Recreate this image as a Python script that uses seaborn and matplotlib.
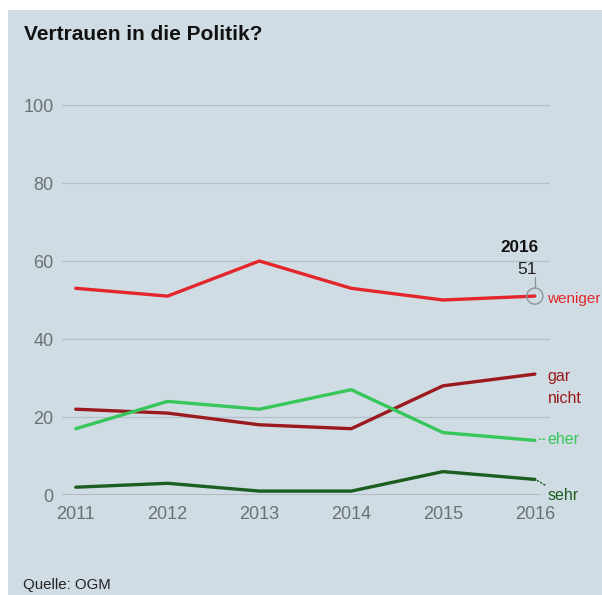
import matplotlib.pyplot as plt
import numpy as np
import pandas as pd
import seaborn as sns
from matplotlib.patches import Rectangle

years = [2011, 2012, 2013, 2014, 2015, 2016]
weniger = [53, 51, 60, 53, 50, 51]
gar_nicht = [22, 21, 18, 17, 28, 31]
eher = [17, 24, 22, 27, 16, 14]
sehr = [2, 3, 1, 1, 6, 4]

series = {'weniger': weniger, 'gar\nnicht': gar_nicht, 'eher': eher, 'sehr': sehr}
colors = {'weniger': '#e3262b', 'gar\nnicht': '#9a1a1d', 'eher': '#36c65a', 'sehr': '#1c5e1f'}
yticks = [0, 20, 40, 60, 80, 100]

bg = '#d0dce3'
sns.set_style('white', {'axes.facecolor': bg})
plt.rcParams['font.family'] = ['Liberation Sans', 'DejaVu Sans']

df = pd.DataFrame([(y, k, v) for k, vals in series.items() for y, v in zip(years, vals)],
                  columns=['year', 'series', 'value'])

fig = plt.figure(figsize=(6.02, 5.95), dpi=100)
fig.patch.set_facecolor('white')
fig.patches.append(Rectangle((8/602, 0), 1, 1 - 10/595, transform=fig.transFigure,
                             facecolor=bg, edgecolor='none', zorder=-10))
ax = fig.add_axes([62/602, 1 - 495/595, 488/602, 390/595])
ax.set_facecolor(bg)

for v in yticks[1:]:
    ax.axhline(v, color='#b4c0c8', lw=0.9, zorder=0)
ax.axhline(0, color='#333333', lw=1.0, xmax=0.98, zorder=1)

sns.lineplot(data=df, x='year', y='value', hue='series', palette=colors, ax=ax,
             lw=2.4, legend=False, clip_on=False, zorder=3)

ax.set_xlim(2010.85, 2016.165)
ax.set_ylim(0, 100)
ax.set_xticks(years)
ax.set_yticks(yticks)
ax.tick_params(axis='both', length=0, labelsize=13, labelcolor='#6a7177')
ax.tick_params(axis='y', pad=6)
ax.tick_params(axis='x', pad=8)
ax.set_xlabel('')
ax.set_ylabel('')
for s in ax.spines.values():
    s.set_visible(False)

# highlight last point of "weniger"
ax.scatter([years[-1]], [weniger[-1]], s=135, facecolor='none', edgecolor='#8a949b',
           lw=1.0, zorder=4, clip_on=False)
ax.plot([years[-1], years[-1]], [weniger[-1] + 2.0, weniger[-1] + 5.0], color='#8a949b', lw=0.9)
ax.text(years[-1] + 0.02, 57.9, str(weniger[-1]), ha='right', va='center',
        fontsize=12.5, color='#222222')
ax.text(years[-1] + 0.04, 63.5, str(years[-1]), ha='right', va='center',
        fontsize=12.3, fontweight='bold', color='#111111')

# end labels
fs = 11.5
ax.text(2016.13, 50.2, 'weniger', color=colors['weniger'], fontsize=11, va='center', ha='left')
ax.text(2016.14, 27.5, 'gar\nnicht', color=colors['gar\nnicht'], fontsize=fs, va='center',
        ha='left', linespacing=1.55)
ax.annotate('eher', xy=(2016.03, 14.3), xytext=(2016.14, 14.3), color=colors['eher'],
            fontsize=fs, va='center', ha='left',
            arrowprops=dict(arrowstyle='-', color=colors['eher'], ls=':', lw=1, shrinkA=0, shrinkB=0))
ax.annotate('sehr', xy=(2016.02, 3.8), xytext=(2016.14, -0.2), color=colors['sehr'],
            fontsize=fs, va='center', ha='left',
            arrowprops=dict(arrowstyle='-', color=colors['sehr'], ls=':', lw=1, shrinkA=0, shrinkB=0))

fig.text(24/602, 1 - 35/595, 'Vertrauen in die Politik?', fontsize=15, fontweight='bold',
         color='#111111', va='center', ha='left')
fig.text(23/602, 1 - 585/595, 'Quelle: OGM', fontsize=10.8, color='#222222', va='center', ha='left')

fig.savefig('out.png', dpi=100)
